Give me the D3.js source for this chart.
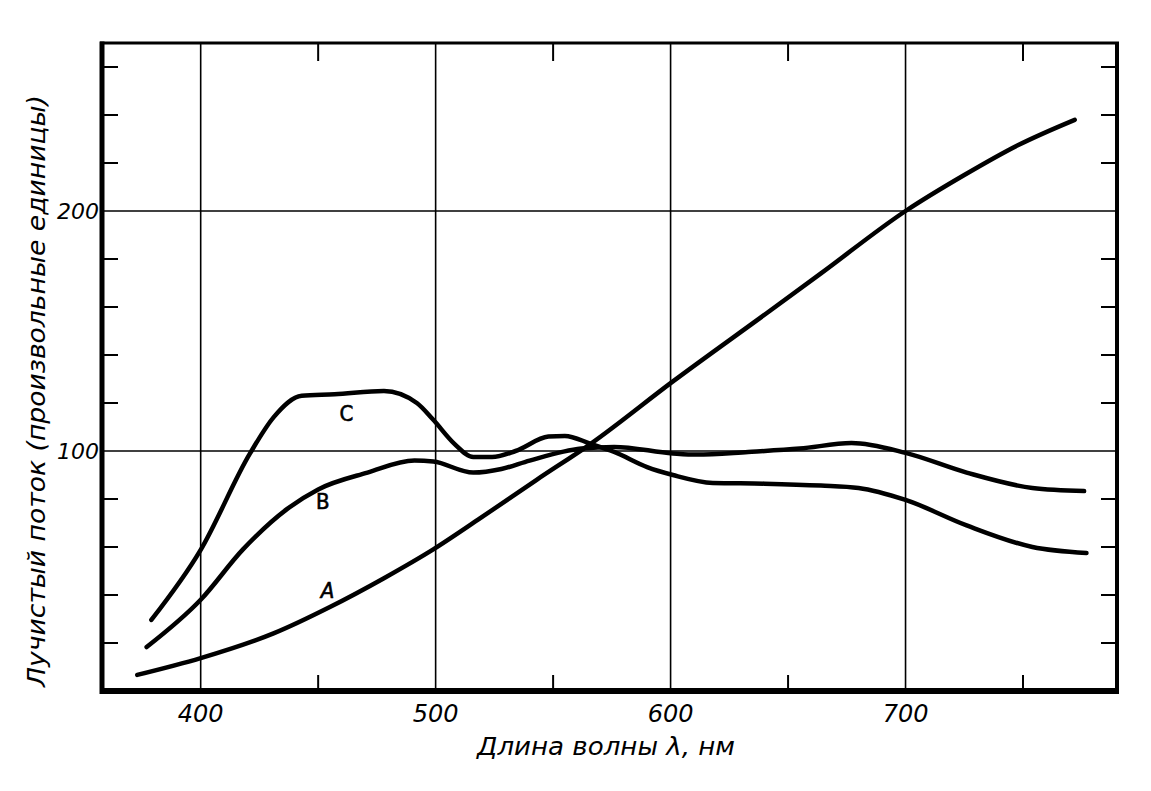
<!DOCTYPE html>
<html>
<head>
<meta charset="utf-8">
<script src="https://cdn.jsdelivr.net/npm/d3@7"></script>
<style>
body { margin: 0; background: #fff; }
.lbl { font-family: "DejaVu Sans", sans-serif; font-style: italic; fill: #000; }
.cond { font-family: "DejaVu Sans Condensed", "DejaVu Sans", sans-serif; }
</style>
</head>
<body>
<script>
//wavelength (nm) and radiant flux readings for each curve
var lambdaA = [373, 400, 431, 455, 478, 499, 519, 543, 566, 601, 641, 664, 700, 725, 748, 772];
var fluxA = [6.7, 13.7, 24, 35, 47, 59, 72, 88, 103, 129, 157.5, 174, 200, 215, 227.5, 238];

var lambdaB = [377, 400, 418, 437, 450, 471, 491, 499, 516, 528, 540, 562, 576, 601, 611, 633, 655, 677, 700, 726, 754, 776];
var fluxB = [18.3, 38, 59, 76, 84, 91, 96, 95.6, 91, 92.5, 96, 101, 101.7, 99, 98.5, 99.6, 101, 103.3, 99.2, 91, 84.6, 83.3];

var lambdaC = [379, 400, 421, 431, 443, 457, 478, 492, 499, 508, 516, 524, 534, 548, 555, 566, 576, 590, 601, 618, 640, 664, 680, 700, 726, 754, 777];
var fluxC = [29.6, 58.8, 99, 114, 123, 123.6, 125, 120, 113, 103, 97.5, 97.5, 100, 106, 106.3, 103, 99.6, 93.3, 90, 86.7, 86.4, 85.6, 84.6, 79.6, 69, 60, 57.5];

//curve letters and where they sit
var curveNames = ["A", "B", "C"];
var nameLambda = [454, 452, 462];
var nameFlux = [42, 78.8, 115.8];

//axis ticks
var xGrid = [400, 500, 600, 700];
var xMinor = [450, 550, 650, 750];
var yGrid = [100, 200];
var yMinor = [20, 40, 60, 80, 120, 140, 160, 180, 220, 240, 260];

window.onload = drawChart();

function drawChart(){
    var width = 1151,
        height = 791;

    var svg = d3.select("body")
        .append("svg")
        .attr("width", width)
        .attr("height", height);

    //scales, the frame is the full domain
    var x = d3.scaleLinear().domain([358, 790]).range([102, 1117]);
    var y = d3.scaleLinear().domain([0, 270]).range([691, 43]);

    var x0 = x.range()[0], x1 = x.range()[1],
        y0 = y.range()[0], y1 = y.range()[1];

    //grid lines
    svg.selectAll(".vgrid")
        .data(xGrid)
        .enter()
        .append("line")
        .attr("x1", function(d){ return x(d); })
        .attr("x2", function(d){ return x(d); })
        .attr("y1", y1)
        .attr("y2", y0)
        .attr("stroke", "#000")
        .attr("stroke-width", 1.6);

    svg.selectAll(".hgrid")
        .data(yGrid)
        .enter()
        .append("line")
        .attr("x1", x0)
        .attr("x2", x1)
        .attr("y1", function(d){ return y(d); })
        .attr("y2", function(d){ return y(d); })
        .attr("stroke", "#000")
        .attr("stroke-width", 1.6);

    //minor ticks, pointing inward on all four sides
    var tick = 16;
    svg.selectAll(".ytickL")
        .data(yMinor)
        .enter()
        .append("line")
        .attr("x1", x0)
        .attr("x2", x0 + tick)
        .attr("y1", function(d){ return y(d); })
        .attr("y2", function(d){ return y(d); })
        .attr("stroke", "#000")
        .attr("stroke-width", 2);

    svg.selectAll(".ytickR")
        .data(yMinor)
        .enter()
        .append("line")
        .attr("x1", x1)
        .attr("x2", x1 - tick)
        .attr("y1", function(d){ return y(d); })
        .attr("y2", function(d){ return y(d); })
        .attr("stroke", "#000")
        .attr("stroke-width", 2);

    svg.selectAll(".xtickB")
        .data(xMinor)
        .enter()
        .append("line")
        .attr("x1", function(d){ return x(d); })
        .attr("x2", function(d){ return x(d); })
        .attr("y1", y0)
        .attr("y2", y0 - tick)
        .attr("stroke", "#000")
        .attr("stroke-width", 2);

    svg.selectAll(".xtickT")
        .data(xMinor)
        .enter()
        .append("line")
        .attr("x1", function(d){ return x(d); })
        .attr("x2", function(d){ return x(d); })
        .attr("y1", y1)
        .attr("y2", y1 + tick + 2)
        .attr("stroke", "#000")
        .attr("stroke-width", 2);

    //frame, heavier at the bottom and left
    svg.append("line").attr("x1", x0 - 2).attr("x2", x1 + 2).attr("y1", y1).attr("y2", y1)
        .attr("stroke", "#000").attr("stroke-width", 3);
    svg.append("line").attr("x1", x1).attr("x2", x1).attr("y1", y1).attr("y2", y0)
        .attr("stroke", "#000").attr("stroke-width", 4);
    svg.append("line").attr("x1", x0).attr("x2", x0).attr("y1", y1 - 1.5).attr("y2", y0 + 3)
        .attr("stroke", "#000").attr("stroke-width", 5);
    svg.append("line").attr("x1", x0 - 2).attr("x2", x1 + 2).attr("y1", y0).attr("y2", y0)
        .attr("stroke", "#000").attr("stroke-width", 6);

    //curves
    var line = d3.line()
        .x(function(d){ return x(d[0]); })
        .y(function(d){ return y(d[1]); })
        .curve(d3.curveMonotoneX);

    var series = [d3.zip(lambdaA, fluxA), d3.zip(lambdaB, fluxB), d3.zip(lambdaC, fluxC)];

    svg.selectAll(".curve")
        .data(series)
        .enter()
        .append("path")
        .attr("d", line)
        .attr("fill", "none")
        .attr("stroke", "#000")
        .attr("stroke-width", 4.5)
        .attr("stroke-linecap", "round")
        .attr("stroke-linejoin", "round");

    //curve letters
    svg.selectAll(".name")
        .data(curveNames)
        .enter()
        .append("text")
        .attr("class", "cond")
        .attr("x", function(d, i){ return x(nameLambda[i]); })
        .attr("y", function(d, i){ return y(nameFlux[i]); })
        .attr("text-anchor", "middle")
        .attr("dominant-baseline", "central")
        .attr("font-size", 22)
        .attr("font-style", function(d){ return d == "A" ? "italic" : "normal"; })
        .attr("stroke", "#000")
        .attr("stroke-width", 0.6)
        .text(function(d){ return d; });

    //tick labels
    svg.selectAll(".xlab")
        .data(xGrid)
        .enter()
        .append("text")
        .attr("class", "lbl")
        .attr("x", function(d){ return x(d); })
        .attr("y", 722)
        .attr("text-anchor", "middle")
        .attr("font-size", 24)
        .text(function(d){ return d; });

    svg.selectAll(".ylab")
        .data(yGrid)
        .enter()
        .append("text")
        .attr("class", "lbl")
        .attr("x", 99)
        .attr("y", function(d){ return y(d) + 8; })
        .attr("text-anchor", "end")
        .attr("font-size", 22)
        .text(function(d){ return d; });

    //axis titles
    svg.append("text")
        .attr("class", "lbl cond")
        .attr("x", 606)
        .attr("y", 755)
        .attr("text-anchor", "middle")
        .attr("font-size", 25)
        .attr("textLength", 258)
        .attr("lengthAdjust", "spacingAndGlyphs")
        .text("Длина волны λ, нм");

    svg.append("text")
        .attr("class", "lbl cond")
        .attr("transform", "translate(45,391) rotate(-90)")
        .attr("text-anchor", "middle")
        .attr("font-size", 25)
        .attr("textLength", 592)
        .attr("lengthAdjust", "spacingAndGlyphs")
        .text("Лучистый поток (произвольные единицы)");
}
</script>
</body>
</html>
